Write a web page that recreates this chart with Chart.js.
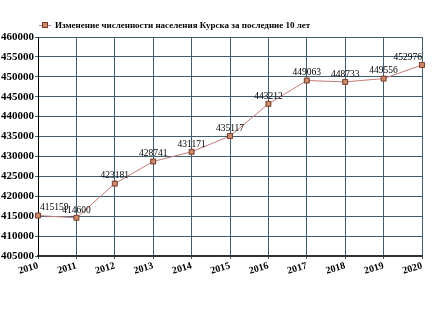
<!DOCTYPE html>
<html>
<head>
<meta charset="utf-8">
<script src="https://cdn.jsdelivr.net/npm/chart.js@4"></script>
<style>
  html, body { margin: 0; padding: 0; background: #fff; }
  #wrap { width: 435px; height: 320px; }
</style>
</head>
<body>
<div id="wrap"><canvas id="popChart" width="435" height="320"></canvas></div>
<script>
// Kursk population, last 10 years
const years = ['2010', '2011', '2012', '2013', '2014', '2015', '2016', '2017', '2018', '2019', '2020'];
const population = [415159, 414600, 423181, 428741, 431171, 435117, 443212, 449063, 448733, 449556, 452976];
const seriesLabel = 'Изменение численности населения Курска за последние 10 лет';

const serif = "'Liberation Serif', 'DejaVu Serif', serif";
const lineColor = '#c47a7a';
const markerFill = '#c98a6a';
const markerBorder = '#7a3a2a';

// Value labels above each point, kept inside the plot area
const valueLabels = {
    id: 'valueLabels',
    afterDatasetsDraw(chart) {
        const ctx = chart.ctx;
        const area = chart.chartArea;
        const meta = chart.getDatasetMeta(0);
        ctx.save();
        ctx.font = '9.5px ' + serif;
        ctx.fillStyle = '#000';
        ctx.textBaseline = 'bottom';
        meta.data.forEach((pt, i) => {
            const text = String(population[i]);
            const w = ctx.measureText(text).width;
            let x = pt.x - w / 2;
            if (x < area.left + 2) x = area.left + 2;
            if (x + w > area.right) x = area.right - w;
            ctx.textAlign = 'left';
            ctx.fillText(text, x, pt.y - 3);
        });
        ctx.restore();
    }
};

// Legend: line with square marker and series name
const topLegend = {
    id: 'topLegend',
    afterDraw(chart) {
        const ctx = chart.ctx;
        const y = 25;
        ctx.save();
        ctx.strokeStyle = lineColor;
        ctx.lineWidth = 1;
        ctx.beginPath();
        ctx.moveTo(39, y + 0.5);
        ctx.lineTo(51, y + 0.5);
        ctx.stroke();
        ctx.fillStyle = markerFill;
        ctx.strokeStyle = markerBorder;
        ctx.fillRect(42, y - 3, 6, 6);
        ctx.strokeRect(42.5, y - 2.5, 5, 5);
        ctx.font = 'bold 9px ' + serif;
        ctx.fillStyle = '#000';
        ctx.textBaseline = 'middle';
        ctx.textAlign = 'left';
        ctx.fillText(seriesLabel, 55, y + 1);
        ctx.restore();
    }
};

new Chart(document.getElementById('popChart'), {
    type: 'line',
    data: {
        labels: years,
        datasets: [{
            label: seriesLabel,
            data: population,
            borderColor: lineColor,
            borderWidth: 1,
            pointStyle: 'rect',
            pointRadius: 3.5,
            pointBackgroundColor: markerFill,
            pointBorderColor: markerBorder,
            pointBorderWidth: 1,
            tension: 0
        }]
    },
    options: {
        responsive: false,
        animation: false,
        layout: { padding: { top: 37, right: 13, left: 0, bottom: 0 } },
        plugins: {
            legend: { display: false },
            tooltip: { enabled: false }
        },
        scales: {
            x: {
                offset: false,
                grid: { color: '#3f5f70', lineWidth: 1, drawTicks: true, tickLength: 3 },
                border: { color: '#333', width: 2 },
                ticks: {
                    color: '#000',
                    font: { family: serif, size: 10, weight: 'bold' },
                    minRotation: 16,
                    maxRotation: 16,
                    padding: 1,
                    autoSkip: false
                },
                afterFit(scale) { scale.height = 64; }
            },
            y: {
                min: 405000,
                max: 460000,
                grid: { color: '#3f5f70', lineWidth: 1, tickLength: 3 },
                border: { color: '#000', width: 1 },
                ticks: {
                    stepSize: 5000,
                    color: '#000',
                    font: { family: serif, size: 11, weight: 'bold' },
                    padding: 1,
                    callback: value => String(value)
                },
                afterFit(scale) { scale.width = 38; }
            }
        }
    },
    plugins: [valueLabels, topLegend]
});
</script>
</body>
</html>
